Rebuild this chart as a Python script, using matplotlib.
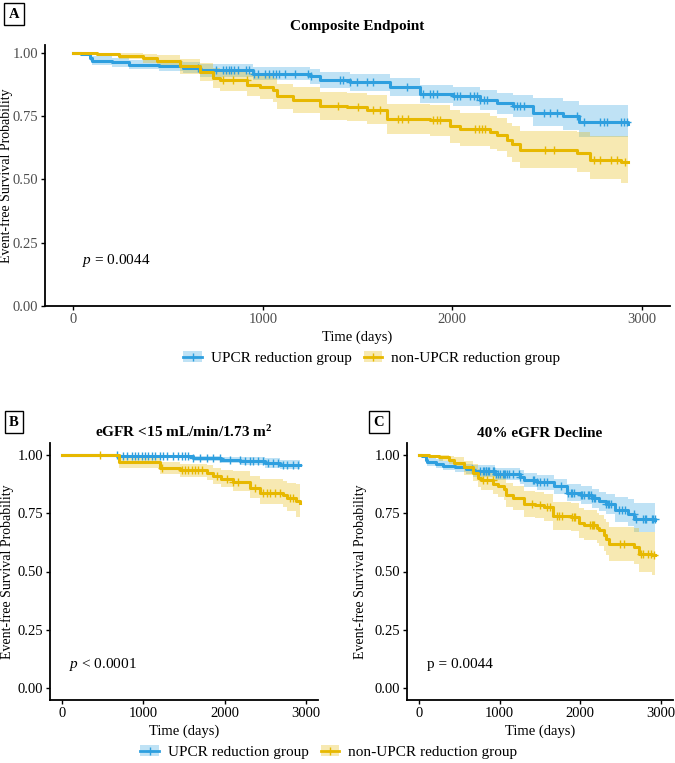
import numpy as np
import matplotlib.pyplot as plt
from matplotlib.lines import Line2D
from matplotlib.patches import Patch

plt.rcParams['font.family'] = ['Liberation Serif', 'DejaVu Serif']
plt.rcParams['mathtext.fontset'] = 'custom'
plt.rcParams['mathtext.rm'] = 'Liberation Serif'
plt.rcParams['mathtext.it'] = 'Liberation Serif:italic'
plt.rcParams['mathtext.bf'] = 'Liberation Serif:bold'

BLUE = '#2E9FDF'
YELLOW = '#E7B800'
groups = ['UPCR reduction group', 'non-UPCR reduction group']

# composite endpoint / 40% eGFR decline (same curves)
upcr_t = [0, 40, 85, 100, 206, 296, 450, 577, 667, 947, 1249, 1302, 1460, 1672, 1831,
          2005, 2148, 2238, 2323, 2429, 2587, 2667, 2930]
upcr_s = [1.0, 0.993, 0.979, 0.968, 0.962, 0.953, 0.947, 0.940, 0.930, 0.917, 0.906, 0.893,
          0.883, 0.864, 0.837, 0.827, 0.814, 0.800, 0.790, 0.762, 0.748, 0.725, 0.720]
upcr_hi = [1.0, 1.0, 0.99, 0.985, 0.98, 0.972, 0.968, 0.962, 0.955, 0.943, 0.935, 0.923,
           0.915, 0.898, 0.873, 0.865, 0.853, 0.84, 0.832, 0.82, 0.81, 0.794, 0.788]
upcr_lo = [1.0, 0.985, 0.965, 0.952, 0.945, 0.935, 0.926, 0.918, 0.905, 0.89, 0.876, 0.862,
           0.85, 0.83, 0.80, 0.788, 0.773, 0.758, 0.746, 0.71, 0.695, 0.668, 0.65]
upcr_cens = [658, 755, 788, 806, 824, 832, 850, 867, 911, 929, 956, 973, 1009, 1035, 1053,
             1071, 1088, 1115, 1168, 1239, 1256, 1407, 1425, 1460, 1496, 1549, 1584, 1760,
             1848, 1884, 1901, 1919, 2007, 2025, 2042, 2095, 2113, 2131, 2148, 2166, 2184,
             2324, 2342, 2360, 2377, 2483, 2519, 2554, 2660, 2695, 2783, 2801, 2818, 2889,
             2907, 2924]

non_t = [0, 122, 243, 365, 439, 561, 667, 735, 772, 915, 984, 1053, 1074, 1159, 1302, 1444,
         1550, 1656, 1884, 1989, 2042, 2201, 2238, 2291, 2317, 2360, 2661, 2730, 2889, 2926]
non_s = [1.0, 0.996, 0.988, 0.979, 0.966, 0.946, 0.922, 0.900, 0.893, 0.874, 0.864, 0.854,
         0.827, 0.814, 0.790, 0.786, 0.775, 0.738, 0.733, 0.709, 0.698, 0.685, 0.676, 0.656,
         0.640, 0.617, 0.604, 0.577, 0.570, 0.570]
non_hi = [1.0, 1.0, 1.0, 0.995, 0.99, 0.975, 0.958, 0.94, 0.935, 0.918, 0.91, 0.90, 0.877,
          0.866, 0.845, 0.842, 0.832, 0.798, 0.794, 0.772, 0.762, 0.75, 0.742, 0.724, 0.71,
          0.69, 0.685, 0.67, 0.67, 0.67]
non_lo = [1.0, 0.99, 0.975, 0.96, 0.942, 0.915, 0.886, 0.86, 0.85, 0.83, 0.818, 0.806, 0.776,
          0.762, 0.735, 0.73, 0.717, 0.678, 0.672, 0.645, 0.633, 0.62, 0.61, 0.588, 0.57,
          0.545, 0.53, 0.50, 0.485, 0.485]
non_cens = [790, 843, 914, 1398, 1504, 1584, 1619, 1716, 1734, 1769, 1901, 1919, 1937, 2122,
            2139, 2157, 2175, 2492, 2536, 2748, 2783, 2836, 2871, 2915]

# eGFR < 15
b_upcr_t = [0, 120, 676, 1610, 1950, 2190, 2500, 2680, 2930]
b_upcr_s = [1.0, 0.997, 0.993, 0.986, 0.979, 0.972, 0.966, 0.957, 0.957]
b_upcr_hi = [1.0, 1.0, 1.0, 0.996, 0.992, 0.988, 0.985, 0.976, 0.974]
b_upcr_lo = [1.0, 0.99, 0.984, 0.974, 0.964, 0.955, 0.945, 0.938, 0.938]
b_upcr_cens = [672, 754, 795, 857, 898, 939, 980, 1021, 1062, 1103, 1144, 1205, 1246, 1287,
               1369, 1431, 1472, 1513, 1554, 1616, 1697, 1779, 1861, 1943, 2066, 2189, 2251,
               2312, 2353, 2415, 2476, 2538, 2599, 2661, 2722, 2763, 2845, 2907]

b_non_t = [0, 700, 1205, 1451, 1783, 1857, 1950, 2103, 2312, 2435, 2718, 2767, 2880, 2928]
b_non_s = [1.0, 0.967, 0.945, 0.934, 0.922, 0.909, 0.895, 0.882, 0.857, 0.838, 0.828, 0.815,
           0.800, 0.795]
b_non_hi = [1.0, 0.985, 0.97, 0.962, 0.955, 0.945, 0.935, 0.93, 0.91, 0.895, 0.888, 0.88,
            0.875, 0.875]
b_non_lo = [1.0, 0.945, 0.918, 0.905, 0.89, 0.875, 0.86, 0.845, 0.815, 0.79, 0.775, 0.76,
            0.735, 0.725]
b_non_cens = [470, 1226, 1472, 1513, 1554, 1595, 1636, 1677, 1718, 1902, 2025, 2107, 2169,
              2374, 2476, 2517, 2558, 2620, 2681, 2804, 2845]


def km(ax, t, s, lo, hi, cens, color):
    t = np.asarray(t, float)
    s = np.asarray(s, float)
    ax.fill_between(t, lo, hi, step='post', color=color, alpha=0.3, lw=0)
    ax.step(t, s, where='post', color=color, lw=2.2)
    c = np.asarray(cens, float)
    cy = s[np.searchsorted(t, c, side='right') - 1]
    ax.plot(c, cy, ls='none', marker='+', ms=6, mew=1, color=color)


def style(ax, ylim, tcol, fs, ylab_x):
    ax.set_xlim(-150, 3150)
    ax.set_ylim(*ylim)
    ax.set_xticks([0, 1000, 2000, 3000])
    ax.set_yticks([0, 0.25, 0.5, 0.75, 1.0])
    ax.set_yticklabels(['0.00', '0.25', '0.50', '0.75', '1.00'])
    for sp in ['top', 'right']:
        ax.spines[sp].set_visible(False)
    for sp in ['left', 'bottom']:
        ax.spines[sp].set_linewidth(1.3)
    ax.tick_params(length=3, width=1, labelsize=fs, colors='black', labelcolor=tcol, pad=2)
    ax.set_xlabel('Time (days)', fontsize=10.5, labelpad=3)
    ax.set_ylabel('Event-free Survival Probability', fontsize=10)
    ax.yaxis.set_label_coords(ylab_x, 0.5)


fig = plt.figure(figsize=(6.75, 7.63), dpi=100)
W, H = 675, 763


def px_axes(l, t, r, b):
    return fig.add_axes([l / W, 1 - b / H, (r - l) / W, (b - t) / H])


axA = px_axes(45, 45, 670, 306)
axB = px_axes(50, 443, 318, 700)
axC = px_axes(407, 443, 673, 700)

for ax in (axA, axC):
    km(ax, upcr_t, upcr_s, upcr_lo, upcr_hi, upcr_cens, BLUE)
    km(ax, non_t, non_s, non_lo, non_hi, non_cens, YELLOW)
km(axB, b_upcr_t, b_upcr_s, b_upcr_lo, b_upcr_hi, b_upcr_cens, BLUE)
km(axB, b_non_t, b_non_s, b_non_lo, b_non_hi, b_non_cens, YELLOW)

style(axA, (0, 1.03), '#4d4d4d', 10.5, (13 - 45) / 625)
style(axB, (-0.05, 1.05), 'black', 10.5, (14 - 50) / 268)
style(axC, (-0.05, 1.05), 'black', 10.5, (367 - 407) / 266)

axA.set_title('Composite Endpoint', fontsize=11, fontweight='bold', pad=11)
axB.set_title('eGFR <15 mL/min/1.73 m$^{\\mathbf{2}}$', fontsize=11, fontweight='bold', pad=4)
axC.set_title('40% eGFR Decline', fontsize=11, fontweight='bold', pad=4)

axA.text(45, 0.18, '$p$ = 0.0044', fontsize=11, va='center')
axB.text(90, 0.10, '$p$ < 0.0001', fontsize=11, va='center')
axC.text(100, 0.10, 'p = 0.0044', fontsize=11, va='center')

for lab, x, y in [('A', 14, 14), ('B', 14, 422), ('C', 379, 422)]:
    fig.text(x / W, 1 - y / H, lab, fontsize=10.5, fontweight='bold', ha='center', va='center',
             bbox=dict(boxstyle='square,pad=0.3', fc='white', ec='black', lw=1))

handles = [(Patch(color=BLUE, alpha=0.3, lw=0), Line2D([], [], color=BLUE, lw=2, marker='+', ms=6)),
           (Patch(color=YELLOW, alpha=0.3, lw=0), Line2D([], [], color=YELLOW, lw=2, marker='+', ms=6))]
for cx, cy in [(372, 358), (329, 752)]:
    fig.legend(handles, groups, loc='center', bbox_to_anchor=(cx / W, 1 - cy / H), ncol=2,
               frameon=False, fontsize=11, handlelength=1.2, handletextpad=0.6, columnspacing=0.8)

fig.savefig('out.png', dpi=100)
